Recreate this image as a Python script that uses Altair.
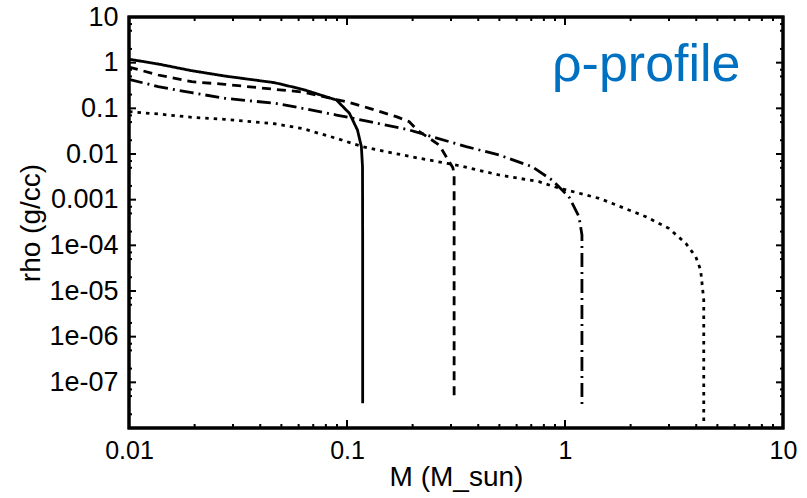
import altair as alt
import pandas as pd

# ---- data ----
solid_m = [0.0100, 0.0136, 0.0194, 0.0275, 0.0466, 0.0625, 0.0895, 0.1026, 0.1117, 0.1164, 0.1178, 0.1180, 0.1180]
solid_rho = [1.19, 0.935, 0.667, 0.51, 0.364, 0.261, 0.152, 0.0779, 0.0335, 0.0145, 0.00527, 1e-4, 3.5e-8]

dashed_m = [0.0100, 0.0136, 0.0194, 0.0275, 0.0466, 0.0625, 0.0895, 0.0996, 0.1268, 0.1684, 0.193, 0.210, 0.265, 0.288, 0.306, 0.310, 0.310]
dashed_rho = [0.80, 0.537, 0.383, 0.336, 0.261, 0.228, 0.155, 0.14, 0.10, 0.0656, 0.051, 0.0335, 0.0157, 0.00805, 0.0050, 0.0035, 4.1e-8]

dashdot_m = [0.0100, 0.0136, 0.0194, 0.0275, 0.0466, 0.0625, 0.0895, 0.1268, 0.193, 0.246, 0.352, 0.499, 0.706, 0.871, 1.042, 1.159, 1.196, 1.196]
dashdot_rho = [0.432, 0.298, 0.22, 0.166, 0.129, 0.1, 0.0714, 0.051, 0.0336, 0.0239, 0.0145, 0.0095, 0.00527, 0.0027, 0.00116, 0.000424, 0.000169, 2.75e-8]

dotted_m = [0.0100, 0.0136, 0.0194, 0.0275, 0.0466, 0.0625, 0.0895, 0.118, 0.152, 0.215, 0.317, 0.499, 0.76, 0.91, 1.432, 1.641, 2.35, 2.99, 3.58, 3.98, 4.19, 4.33, 4.33]
dotted_rho = [0.0844, 0.0752, 0.0637, 0.0575, 0.046, 0.036, 0.022, 0.0145, 0.0112, 0.00805, 0.00574, 0.00347, 0.00248, 0.00187, 0.00107, 0.000833, 0.000424, 0.000236, 0.000111, 5.64e-5, 2.88e-5, 6.35e-6, 1.22e-8]

series_names = ["solid", "dashed", "dashdot", "dotted"]
series_dash = [[1, 0], [9, 6], [14, 5, 2, 5], [3.5, 5]]

x_major = [0.01, 0.1, 1, 10]
x_minor = [k * 10.0 ** e for e in (-2, -1, 0) for k in range(2, 10)]
y_major = [10.0 ** e for e in range(-8, 2)]
y_minor = [k * 10.0 ** e for e in range(-8, 1) for k in (2, 5, 7)]
y_label_values = [10.0 ** e for e in range(-7, 2)]

x_title = "M (M_sun)"
y_title = "rho (g/cc)"
annot = "ρ-profile"

FONT = "Liberation Sans"
W, H = 654, 411

rows = []
for name, ms, rs in zip(series_names, [solid_m, dashed_m, dashdot_m, dotted_m],
                        [solid_rho, dashed_rho, dashdot_rho, dotted_rho]):
    for i, (m, r) in enumerate(zip(ms, rs)):
        rows.append({"series": name, "M": m, "rho": r, "i": i})
df = pd.DataFrame(rows)

xscale = alt.Scale(type="log", domain=[0.01, 10], nice=False)
yscale = alt.Scale(type="log", domain=[1e-8, 10], nice=False)

xaxis = alt.Axis(values=x_major, labelExpr="'' + datum.value", ticks=False, domain=False,
                 grid=False, labelFontSize=25, labelFont=FONT, labelColor="black",
                 labelPadding=10, title=x_title, titleFont=FONT, titleFontSize=28,
                 titleFontWeight="normal", titleColor="black", titlePadding=0,
                 labelFlush=False, labelOverlap=False)
yaxis = alt.Axis(values=y_label_values,
                 labelExpr="datum.value >= 0.001 ? '' + datum.value : '1e-0' + format(-log(datum.value)/LN10, '.0f')",
                 ticks=False, domain=False, grid=False, labelFontSize=27, labelFont=FONT,
                 labelColor="black", labelPadding=11, title=y_title, titleFont=FONT,
                 titleFontSize=28, titleFontWeight="normal", titleColor="black",
                 titlePadding=3, labelFlush=False, labelOverlap=False)

lines = alt.Chart(df).mark_line(color="black", strokeWidth=2.8).encode(
    x=alt.X("M:Q", scale=xscale, axis=xaxis),
    y=alt.Y("rho:Q", scale=yscale, axis=yaxis),
    detail="series:N",
    strokeDash=alt.StrokeDash("series:N", scale=alt.Scale(domain=series_names, range=series_dash), legend=None),
    order="i:Q",
)

def xticks(vals, length):
    d = pd.DataFrame({"xv": vals})
    bottom = alt.Chart(d).mark_rule(color="black", strokeWidth=2).encode(
        x=alt.X("xv:Q", scale=xscale, axis=xaxis), y=alt.value(H), y2=alt.value(H - length))
    top = alt.Chart(d).mark_rule(color="black", strokeWidth=2).encode(
        x=alt.X("xv:Q", scale=xscale, axis=xaxis), y=alt.value(0), y2=alt.value(length))
    return [bottom, top]

def yticks(vals, length):
    d = pd.DataFrame({"yv": vals})
    left = alt.Chart(d).mark_rule(color="black", strokeWidth=2).encode(
        y=alt.Y("yv:Q", scale=yscale, axis=yaxis), x=alt.value(0), x2=alt.value(length))
    right = alt.Chart(d).mark_rule(color="black", strokeWidth=2).encode(
        y=alt.Y("yv:Q", scale=yscale, axis=yaxis), x=alt.value(W), x2=alt.value(W - length))
    return [left, right]

# frame drawn from the axis extremes through the scales
frame_df = pd.DataFrame({"x0": [0.01], "x1": [10.0], "y0": [1e-8], "y1": [10.0]})
frame = alt.Chart(frame_df).mark_rect(filled=False, stroke="black", strokeWidth=3, color="black").encode(
    x=alt.X("x0:Q", scale=xscale, axis=xaxis), x2="x1:Q",
    y=alt.Y("y0:Q", scale=yscale, axis=yaxis), y2="y1:Q",
)

label = alt.Chart(pd.DataFrame({"t": [annot]})).mark_text(
    align="left", baseline="alphabetic", font=FONT, fontSize=52, color="#0070C0"
).encode(text="t:N", x=alt.value(423), y=alt.value(64))

chart = alt.layer(
    lines, *xticks(x_major, 8), *xticks(x_minor, 4), *yticks(y_major, 7), *yticks(y_minor, 3), frame, label
).properties(
    width=W, height=H,
    autosize=alt.AutoSizeParams(type="none"),
    padding={"left": 129, "top": 17, "right": 24, "bottom": 70},
).configure_view(stroke="black", strokeWidth=3)

chart.save("out.html", embed_options={"renderer": "svg", "actions": False})
